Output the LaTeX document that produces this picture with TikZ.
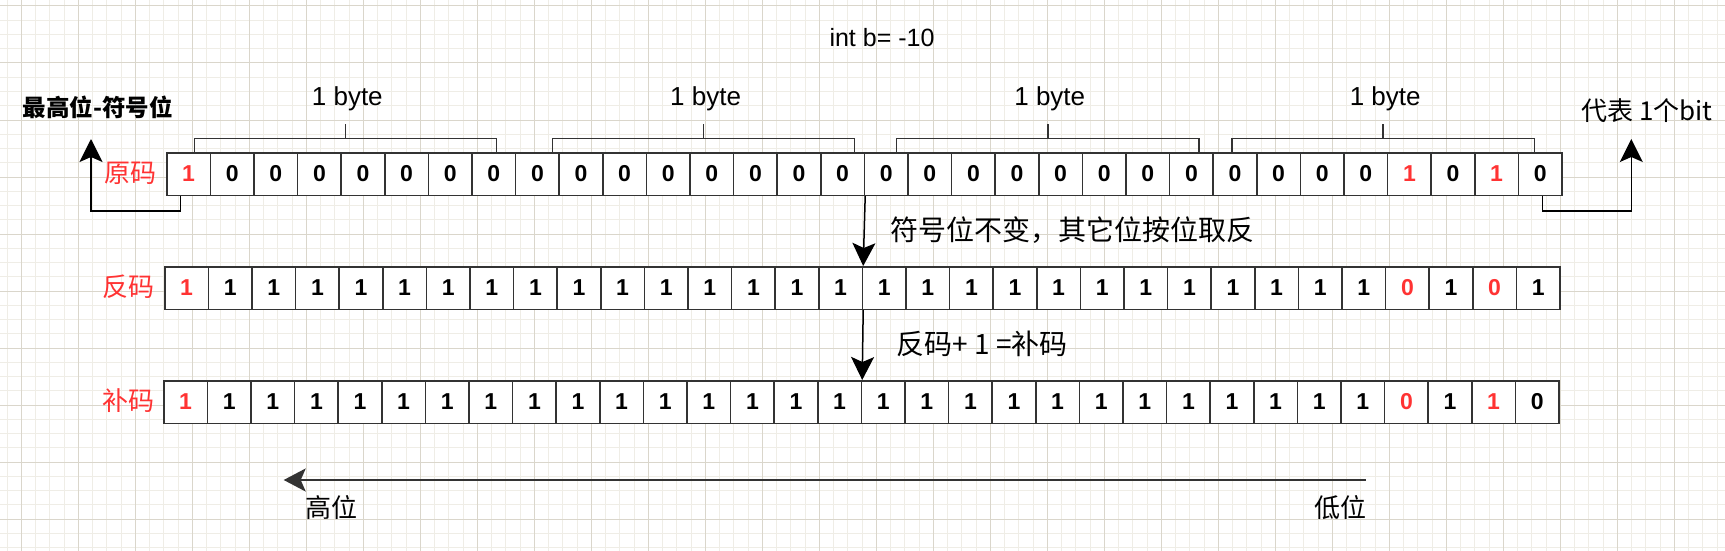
\documentclass[tikz,border=0pt]{standalone}
\usepackage{fontspec}
\setmainfont{Liberation Sans}
\newfontfamily\cjk{Noto Sans CJK SC}
\usetikzlibrary{arrows.meta,calc}
\definecolor{R}{HTML}{FF3333}
\colorlet{K}{black}
\definecolor{linec}{HTML}{333333}
\definecolor{gridmajor}{HTML}{DAD6CB}
\definecolor{gridminor}{HTML}{EFEDE6}
\tikzset{
  cell/.style={draw=linec, line width=1.6pt, fill=white, inner sep=0pt,
    minimum width=43.6pt, minimum height=42.5pt, anchor=north west,
    font=\fontsize{23}{23}\selectfont\bfseries},
  brk/.style={draw=linec, line width=1.5pt},
  bytelbl/.style={anchor=base, inner sep=0pt, font=\fontsize{26}{26}\selectfont},
  arr/.style={draw=black, line width=1.5pt, -{Stealth[length=23pt,width=23pt,inset=5pt]}},
  bigarr/.style={draw=linec, line width=2.2pt, -{Stealth[length=22pt,width=23pt,inset=5pt]}},
  redlbl/.style={inner sep=0pt, text=R, font=\cjk\fontsize{26}{26}\selectfont},
  txt/.style={inner sep=0pt, font=\cjk\fontsize{26}{26}\selectfont},
  gmin/.style={draw=gridminor, line width=1pt},
  gmaj/.style={draw=gridmajor, line width=1pt},
}
\begin{document}
\begin{tikzpicture}[x=1pt,y=-1pt]
\useasboundingbox (0,0) rectangle (1725,551);
\fill[white] (0,0) rectangle (1725,551);
% grid
\foreach \i in {-1,...,119} \draw[gmin] ({21.3+\i*14.25},0) -- ({21.3+\i*14.25},551);
\foreach \j in {0,...,38} \draw[gmin] (0,{6+\j*14.25}) -- (1725,{6+\j*14.25});
\foreach \i in {0,...,29} \draw[gmaj] ({21.3+\i*57},0) -- ({21.3+\i*57},551);
\foreach \j in {0,...,9} \draw[gmaj] (0,{6+\j*57}) -- (1725,{6+\j*57});

% rows
\foreach \b/\c [count=\i] in {1/R,0/K,0/K,0/K,0/K,0/K,0/K,0/K,0/K,0/K,0/K,0/K,0/K,0/K,0/K,0/K,0/K,0/K,0/K,0/K,0/K,0/K,0/K,0/K,0/K,0/K,0/K,0/K,1/R,0/K,1/R,0/K}
  \node[cell, text=\c] (r1c\i) at ({166+(\i-1)*43.6},152) {\b};
\foreach \b/\c [count=\i] in {1/R,1/K,1/K,1/K,1/K,1/K,1/K,1/K,1/K,1/K,1/K,1/K,1/K,1/K,1/K,1/K,1/K,1/K,1/K,1/K,1/K,1/K,1/K,1/K,1/K,1/K,1/K,1/K,0/R,1/K,0/R,1/K}
  \node[cell, text=\c] (r2c\i) at ({164+(\i-1)*43.6},266) {\b};
\foreach \b/\c [count=\i] in {1/R,1/K,1/K,1/K,1/K,1/K,1/K,1/K,1/K,1/K,1/K,1/K,1/K,1/K,1/K,1/K,1/K,1/K,1/K,1/K,1/K,1/K,1/K,1/K,1/K,1/K,1/K,1/K,0/R,1/K,1/R,0/K}
  \node[cell, text=\c] (r3c\i) at ({163+(\i-1)*43.6},380) {\b};

% byte brackets
\foreach \a/\b [count=\k] in {194.3/496.3, 552.7/854.6, 896.7/1198.8, 1231.9/1534.4} {
  \draw[brk] (\a,151.7) -- (\a,138.3) -- (\b,138.3) -- (\b,151.7);
  \draw[brk] ({(\a+\b)/2},138.3) -- ({(\a+\b)/2},124);
  \node[bytelbl] (byte\k) at ({(\a+\b)/2+2},106) {1 byte};
}

% title
\node[anchor=base, inner sep=0pt, font=\fontsize{25}{25}\selectfont] (title) at (882,46.5) {int b= -10};

% labels
\node[anchor=base west, inner sep=0pt, font=\cjk\fontsize{23.5}{23.5}\selectfont\bfseries] (sign) at (22.5,116.8) {最高位-符号位};
\node[redlbl, anchor=base east] (yuan) at (156.5,182.6) {原码};
\node[redlbl, anchor=base east] (fan) at (155,296.6) {反码};
\node[redlbl, anchor=base east] (bu) at (154.5,410) {补码};
\node[txt, anchor=base west] (bitlbl) at (1581,121) {代表 1个bit};
\node[txt, anchor=base west, font=\cjk\fontsize{28}{28}\selectfont] (step1) at (890.5,240) {符号位不变，其它位按位取反};
\node[txt, anchor=base west, font=\cjk\fontsize{28}{28}\selectfont] (step2) at (896.5,354.6) {反码+ 1 =补码};
\node[txt, anchor=base west] (high) at (305,517) {高位};
\node[txt, anchor=base east] (low) at (1366.5,517) {低位};

% connectors
\coordinate (tipL) at (91,139);
\coordinate (tipR) at (1631.3,139);
\draw[arr] ([xshift=-8.3pt]r1c1.south) -- ++(0,15) -| (tipL);
\draw[arr] ([xshift=2.2pt]r1c32.south) -- ++(0,15) -| (tipR);
\draw[arr] (r1c16.south east) -- (r2c16.north east);
\draw[arr] (r2c16.south east) -- (r3c16.north east);
\coordinate (lowE) at (1365.5,480);
\coordinate (highE) at (283.7,480);
\draw[bigarr] (lowE) -- (highE);
\end{tikzpicture}
\end{document}
